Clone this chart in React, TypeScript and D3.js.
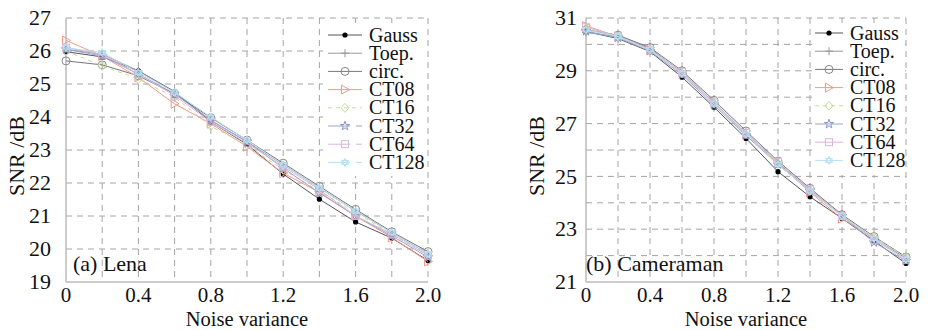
import React, { useEffect, useRef } from 'react';
import * as d3 from 'd3';

const noiseVariance = [0, 0.2, 0.4, 0.6, 0.8, 1.0, 1.2, 1.4, 1.6, 1.8, 2.0];
const xTicks = [0, 0.4, 0.8, 1.2, 1.6, 2.0];
const xTickLabels = ['0', '0.4', '0.8', '1.2', '1.6', '2.0'];

const seriesNames = ['Gauss', 'Toep.', 'circ.', 'CT08', 'CT16', 'CT32', 'CT64', 'CT128'];

// Lena
const lenaGauss = [25.98, 25.82, 25.4, 24.77, 23.85, 23.17, 22.27, 21.51, 20.82, 20.33, 19.65];
const lenaToep = [26.05, 25.9, 25.4, 24.75, 23.9, 23.25, 22.55, 21.85, 21.15, 20.5, 19.85];
const lenaCirc = [25.7, 25.58, 25.25, 24.7, 23.98, 23.3, 22.6, 21.9, 21.2, 20.52, 19.92];
const lenaCT08 = [26.32, 25.85, 25.2, 24.4, 23.8, 23.1, 22.3, 21.72, 21.0, 20.35, 19.62];
const lenaCT16 = [26.0, 25.55, 25.15, 24.6, 23.72, 23.15, 22.4, 21.75, 21.1, 20.45, 19.8];
const lenaCT32 = [26.05, 25.85, 25.3, 24.7, 23.9, 23.25, 22.45, 21.7, 21.0, 20.4, 19.75];
const lenaCT64 = [26.1, 25.9, 25.3, 24.65, 23.85, 23.2, 22.5, 21.8, 21.0, 20.45, 19.8];
const lenaCT128 = [26.1, 25.95, 25.35, 24.75, 24.0, 23.3, 22.55, 21.85, 21.15, 20.5, 19.85];

// Cameraman
const camGauss = [30.49, 30.22, 29.73, 28.76, 27.62, 26.44, 25.18, 24.23, 23.41, 22.56, 21.7];
const camToep = [30.45, 30.3, 29.85, 28.9, 27.8, 26.6, 25.5, 24.5, 23.5, 22.65, 21.9];
const camCirc = [30.55, 30.35, 29.88, 29.0, 27.88, 26.72, 25.58, 24.55, 23.55, 22.72, 21.95];
const camCT08 = [30.7, 30.3, 29.8, 28.95, 27.8, 26.6, 25.5, 24.4, 23.4, 22.65, 21.85];
const camCT16 = [30.6, 30.3, 29.8, 28.9, 27.75, 26.6, 25.5, 24.45, 23.5, 22.7, 21.95];
const camCT32 = [30.5, 30.25, 29.75, 28.85, 27.7, 26.55, 25.45, 24.45, 23.5, 22.5, 21.8];
const camCT64 = [30.65, 30.3, 29.8, 28.95, 27.8, 26.65, 25.55, 24.5, 23.5, 22.6, 21.85];
const camCT128 = [30.55, 30.3, 29.8, 28.9, 27.75, 26.6, 25.45, 24.45, 23.5, 22.65, 21.85];

const lenaYTicks = [19, 20, 21, 22, 23, 24, 25, 26, 27];
const camYTicks = [21, 23, 25, 27, 29, 31];

type Style = { color: string; line: string; marker: string; dash?: string };
const styles: Style[] = [
  { color: '#000', line: '#555', marker: 'dot' },
  { color: '#999', line: '#999', marker: 'plus' },
  { color: '#888', line: '#777', marker: 'circle' },
  { color: '#f29a88', line: '#f29a88', marker: 'triangle' },
  { color: '#c2dd9a', line: '#c2dd9a', marker: 'diamond', dash: '4,4' },
  { color: '#8a96cc', line: '#9aa4d2', marker: 'star' },
  { color: '#dab4da', line: '#dab4da', marker: 'square' },
  { color: '#b4e0f0', line: '#b4e0f0', marker: 'hex' },
];

const FONT = '"Liberation Serif", "Times New Roman", serif';
const FS = 22;
const TICK_FS = 21;
const TITLE_FS = 20.5;
const LEGEND_FS = 20;

function drawMarker(g: d3.Selection<SVGGElement, unknown, null, undefined>, kind: string, cx: number, cy: number, color: string) {
  if (kind === 'dot') {
    g.append('circle').attr('cx', cx).attr('cy', cy).attr('r', 2.6).attr('fill', '#000');
  } else if (kind === 'plus') {
    g.append('path').attr('d', `M${cx - 4},${cy}H${cx + 4}M${cx},${cy - 4}V${cy + 4}`).attr('stroke', color).attr('stroke-width', 1);
  } else if (kind === 'circle') {
    g.append('circle').attr('cx', cx).attr('cy', cy).attr('r', 4).attr('fill', 'none').attr('stroke', color).attr('stroke-width', 1);
  } else if (kind === 'triangle') {
    g.append('path').attr('d', `M${cx - 3.5},${cy - 4.5}L${cx + 4.5},${cy}L${cx - 3.5},${cy + 4.5}Z`).attr('fill', 'none').attr('stroke', color).attr('stroke-width', 1);
  } else if (kind === 'diamond') {
    g.append('path').attr('d', `M${cx},${cy - 4.5}L${cx + 4},${cy}L${cx},${cy + 4.5}L${cx - 4},${cy}Z`).attr('fill', 'none').attr('stroke', color).attr('stroke-width', 1);
  } else if (kind === 'star') {
    g.append('path').attr('d', d3.symbol().type(d3.symbolStar).size(26)()!).attr('transform', `translate(${cx},${cy})`).attr('fill', 'none').attr('stroke', color).attr('stroke-width', 1);
  } else if (kind === 'square') {
    g.append('rect').attr('x', cx - 3.5).attr('y', cy - 3.5).attr('width', 7).attr('height', 7).attr('fill', 'none').attr('stroke', color).attr('stroke-width', 1);
  } else if (kind === 'hex') {
    const r = 4;
    const tri = (a0: number) => d3.range(3).map((i) => {
      const a = a0 + (i * 2 * Math.PI) / 3;
      return `${cx + r * Math.cos(a)},${cy + r * Math.sin(a)}`;
    });
    g.append('path').attr('d', `M${tri(-Math.PI / 2).join('L')}ZM${tri(Math.PI / 2).join('L')}Z`).attr('fill', 'none').attr('stroke', color).attr('stroke-width', 1);
  }
}

interface PanelCfg {
  left: number; right: number; top: number; bottom: number;
  yDomain: [number, number]; yTicks: number[]; yGrid: number[];
  series: number[][]; caption: string; captionDx: number; yTickGap: number;
  legendX: number; legendY: number; legendStep: number; sampleW: number;
  legendBox: [number, number, number, number];
  splitDash: boolean;
}

function drawPanel(svg: d3.Selection<SVGSVGElement, unknown, null, undefined>, c: PanelCfg) {
  const g = svg.append('g');
  const x = d3.scaleLinear().domain([0, 2]).range([c.left, c.right]);
  const y = d3.scaleLinear().domain(c.yDomain).range([c.bottom, c.top]);
  const gridColor = '#a8a2a2';

  // grid
  noiseVariance.forEach((v) => {
    if (v === 0) return;
    g.append('line').attr('x1', x(v)).attr('x2', x(v)).attr('y1', c.top).attr('y2', c.bottom)
      .attr('stroke', gridColor).attr('stroke-width', 1).attr('stroke-dasharray', '6,5');
  });
  c.yGrid.forEach((v) => {
    if (v === c.yDomain[0]) return;
    g.append('line').attr('x1', c.left).attr('x2', c.right).attr('y1', y(v)).attr('y2', y(v))
      .attr('stroke', gridColor).attr('stroke-width', 1).attr('stroke-dasharray', '6,5');
  });

  // legend background
  g.append('rect').attr('x', c.legendBox[0]).attr('y', c.legendBox[1]).attr('width', c.legendBox[2]).attr('height', c.legendBox[3]).attr('fill', '#fff');

  // axes
  g.append('line').attr('x1', c.left).attr('x2', c.left).attr('y1', c.top).attr('y2', c.bottom).attr('stroke', '#bbb').attr('stroke-width', 1.5);
  g.append('line').attr('x1', c.left).attr('x2', c.right).attr('y1', c.bottom).attr('y2', c.bottom).attr('stroke', '#bbb').attr('stroke-width', 1.5);

  // series
  const line = d3.line<number>().x((_, i) => x(noiseVariance[i])).y((d) => y(d));
  c.series.forEach((vals, si) => {
    const st = styles[si];
    g.append('path').attr('d', line(vals)!).attr('fill', 'none').attr('stroke', st.line).attr('stroke-width', 1)
      .attr('stroke-dasharray', st.dash ?? null);
    vals.forEach((v, i) => drawMarker(g, st.marker, x(noiseVariance[i]), y(v), st.color));
  });

  // legend
  seriesNames.forEach((name, i) => {
    const st = styles[i];
    const ly = c.legendY + i * c.legendStep;
    let dash = st.dash ?? null;
    if (c.splitDash && i >= 5) dash = `${c.sampleW * 0.65},${c.sampleW * 0.17},${c.sampleW * 0.18}`;
    g.append('line').attr('x1', c.legendX).attr('x2', c.legendX + c.sampleW).attr('y1', ly).attr('y2', ly)
      .attr('stroke', st.line).attr('stroke-width', 1).attr('stroke-dasharray', dash);
    drawMarker(g, st.marker, c.legendX + c.sampleW / 2, ly, st.color);
    g.append('text').attr('x', c.legendX + c.sampleW + 7).attr('y', ly).attr('dy', '0.33em')
      .attr('font-family', FONT).attr('font-size', LEGEND_FS).attr('fill', '#111').text(name);
  });

  // tick labels
  xTicks.forEach((v, i) => {
    g.append('text').attr('x', x(v)).attr('y', c.bottom + 20).attr('text-anchor', 'middle')
      .attr('font-family', FONT).attr('font-size', TICK_FS).attr('fill', '#111').text(xTickLabels[i]);
  });
  c.yTicks.forEach((v) => {
    g.append('text').attr('x', c.left - c.yTickGap).attr('y', y(v)).attr('dy', '0.33em').attr('text-anchor', 'end')
      .attr('font-family', FONT).attr('font-size', FS).attr('fill', '#111').text(String(v));
  });

  // axis titles
  g.append('text').attr('x', (c.left + c.right) / 2).attr('y', c.bottom + 43.5).attr('text-anchor', 'middle')
    .attr('font-family', FONT).attr('font-size', TITLE_FS).attr('fill', '#111').text('Noise variance');
  g.append('text').attr('transform', `translate(${c.left - 42},${(c.top + c.bottom) / 2 + 6}) rotate(-90)`)
    .attr('text-anchor', 'middle').attr('font-family', FONT).attr('font-size', FS).attr('fill', '#111').text('SNR /dB');

  // caption
  g.append('text').attr('x', c.left + c.captionDx).attr('y', c.bottom - 19).attr('dy', '0.35em')
    .attr('font-family', FONT).attr('font-size', FS).attr('fill', '#111').text(c.caption);
}

export default function App() {
  const svgRef = useRef<SVGSVGElement>(null);

  useEffect(() => {
    if (!svgRef.current) return;
    const svg = d3.select(svgRef.current);
    svg.selectAll('*').remove();

    drawPanel(svg, {
      left: 66, right: 428, top: 18, bottom: 282,
      yDomain: [19, 27], yTicks: lenaYTicks, yGrid: lenaYTicks,
      series: [lenaGauss, lenaToep, lenaCirc, lenaCT08, lenaCT16, lenaCT32, lenaCT64, lenaCT128],
      caption: '(a) Lena', captionDx: 7, yTickGap: 15,
      legendX: 328, legendY: 35, legendStep: 18.2, sampleW: 34,
      legendBox: [323, 23, 103, 153], splitDash: true,
    });

    drawPanel(svg, {
      left: 586, right: 906, top: 18, bottom: 282,
      yDomain: [21, 31], yTicks: camYTicks, yGrid: d3.range(21, 32),
      series: [camGauss, camToep, camCirc, camCT08, camCT16, camCT32, camCT64, camCT128],
      caption: '(b) Cameraman', captionDx: 0, yTickGap: 9,
      legendX: 815, legendY: 33, legendStep: 18.2, sampleW: 28,
      legendBox: [812, 23, 92, 152], splitDash: false,
    });
  }, []);

  return (
    <svg ref={svgRef} width={929} height={330} style={{ position: 'absolute', left: 0, top: 0, background: '#fff' }} />
  );
}
